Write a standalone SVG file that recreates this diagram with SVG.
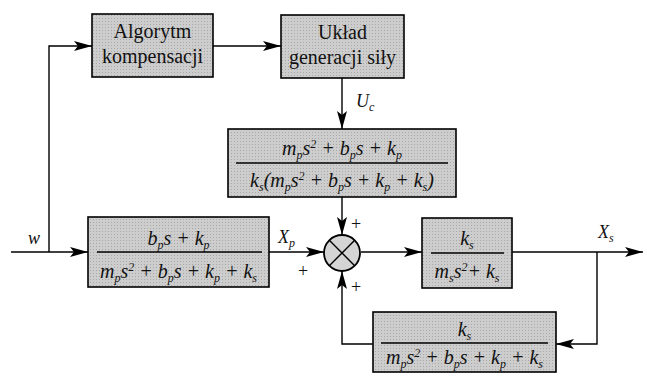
<svg xmlns="http://www.w3.org/2000/svg" width="645" height="373" viewBox="0 0 645 373">
<defs>
<marker id="ah" markerWidth="20" markerHeight="12" refX="18" refY="5" orient="auto" markerUnits="userSpaceOnUse">
<path d="M0,0 L18,5 L0,10 L4,5 z" fill="#000"/>
</marker>
<pattern id="dots" width="3" height="3" patternUnits="userSpaceOnUse">
<rect width="3" height="3" fill="#cdcdcd"/>
<rect width="1" height="1" fill="#a8a8a8"/>
</pattern>
</defs>
<style>
.box{fill:url(#dots);stroke:#000;stroke-width:1.6}
.ln{fill:none;stroke:#000;stroke-width:1.4}
.arr{fill:none;stroke:#000;stroke-width:1.4;marker-end:url(#ah)}
.t,.m,.lab,.pl{font-family:'Liberation Serif','Times New Roman',serif;fill:#111}
.t{font-size:20px;text-anchor:middle}
.m{font-size:20px;font-style:italic;text-anchor:middle}
.lab{font-size:18px;font-style:italic}
.pl{font-size:18px}
.s{font-size:12px}
.fl{stroke:#000;stroke-width:1.3}
</style>
<rect width="645" height="373" fill="#fff"/>
<g id="connectors">
<polyline class="arr" points="49,252 49,46 92,46"/>
<line class="arr" x1="213" y1="46" x2="281" y2="46"/>
<line class="arr" x1="342" y1="78" x2="342" y2="129"/>
<line class="arr" x1="342" y1="197" x2="342" y2="235"/>
<line class="arr" x1="11" y1="252" x2="88" y2="252"/>
<line class="arr" x1="269" y1="252" x2="324" y2="252"/>
<line class="arr" x1="361" y1="252" x2="422" y2="252"/>
<line class="arr" x1="512" y1="252" x2="643" y2="252"/>
<polyline class="arr" points="597,252 597,344 556,344"/>
<polyline class="arr" points="373,344 342,344 342,271"/>
<text class="lab" x="28" y="244">w</text>
<text class="lab" x="278" y="243">X<tspan class="s" dy="4">p</tspan></text>
<text class="lab" x="598" y="238">X<tspan class="s" dy="4">s</tspan></text>
<text class="lab" x="356" y="107">U<tspan class="s" dy="4">c</tspan></text>
<text class="pl" x="351" y="230">+</text>
<text class="pl" x="298" y="277">+</text>
<text class="pl" x="351" y="293">+</text>
</g>
<g id="algorytm">
<rect class="box" x="92" y="14" width="121" height="63"/>
<text class="t" x="152.5" y="38">Algorytm</text>
<text class="t" x="152.5" y="63">kompensacji</text>
</g>
<g id="uklad">
<rect class="box" x="281" y="15" width="123" height="63"/>
<text class="t" x="342.5" y="39">Układ</text>
<text class="t" x="342.5" y="64">generacji siły</text>
</g>
<g id="box3">
<rect class="box" x="228" y="129" width="228" height="68"/>
<line class="fl" x1="236" y1="163" x2="448" y2="163"/>
<text class="m" x="342" y="155">m<tspan class="s" dy="4">p</tspan><tspan dy="-4">s</tspan><tspan class="s" dy="-7">2</tspan><tspan dy="7"> + b</tspan><tspan class="s" dy="4">p</tspan><tspan dy="-4">s + k</tspan><tspan class="s" dy="4">p</tspan></text>
<text class="m" x="342" y="187">k<tspan class="s" dy="4">s</tspan><tspan dy="-4">(m</tspan><tspan class="s" dy="4">p</tspan><tspan dy="-4">s</tspan><tspan class="s" dy="-7">2</tspan><tspan dy="7"> + b</tspan><tspan class="s" dy="4">p</tspan><tspan dy="-4">s + k</tspan><tspan class="s" dy="4">p</tspan><tspan dy="-4"> + k</tspan><tspan class="s" dy="4">s</tspan><tspan dy="-4">)</tspan></text>
</g>
<g id="box4">
<rect class="box" x="88" y="217" width="181" height="70"/>
<line class="fl" x1="97" y1="252" x2="262" y2="252"/>
<text class="m" x="178.5" y="245">b<tspan class="s" dy="4">p</tspan><tspan dy="-4">s + k</tspan><tspan class="s" dy="4">p</tspan></text>
<text class="m" x="178.5" y="278">m<tspan class="s" dy="4">p</tspan><tspan dy="-4">s</tspan><tspan class="s" dy="-7">2</tspan><tspan dy="7"> + b</tspan><tspan class="s" dy="4">p</tspan><tspan dy="-4">s + k</tspan><tspan class="s" dy="4">p</tspan><tspan dy="-4"> + k</tspan><tspan class="s" dy="4">s</tspan></text>
</g>
<g id="sum">
<circle cx="342" cy="253" r="18" fill="#d4d4d4" stroke="#000" stroke-width="1.8"/>
<line class="ln" x1="329.3" y1="240.3" x2="354.7" y2="265.7" stroke-width="1.8"/>
<line class="ln" x1="354.7" y1="240.3" x2="329.3" y2="265.7" stroke-width="1.8"/>
</g>
<g id="box5">
<rect class="box" x="422" y="218" width="90" height="70"/>
<line class="fl" x1="431" y1="253" x2="504" y2="253"/>
<text class="m" x="467" y="245">k<tspan class="s" dy="4">s</tspan></text>
<text class="m" x="467" y="278">m<tspan class="s" dy="4">s</tspan><tspan dy="-4">s</tspan><tspan class="s" dy="-7">2</tspan><tspan dy="7">+ k</tspan><tspan class="s" dy="4">s</tspan></text>
</g>
<g id="box6">
<rect class="box" x="373" y="312" width="183" height="60"/>
<line class="fl" x1="381" y1="343" x2="548" y2="343"/>
<text class="m" x="464.5" y="336">k<tspan class="s" dy="4">s</tspan></text>
<text class="m" x="464.5" y="364">m<tspan class="s" dy="4">p</tspan><tspan dy="-4">s</tspan><tspan class="s" dy="-7">2</tspan><tspan dy="7"> + b</tspan><tspan class="s" dy="4">p</tspan><tspan dy="-4">s + k</tspan><tspan class="s" dy="4">p</tspan><tspan dy="-4"> + k</tspan><tspan class="s" dy="4">s</tspan></text>
</g>
</svg>
